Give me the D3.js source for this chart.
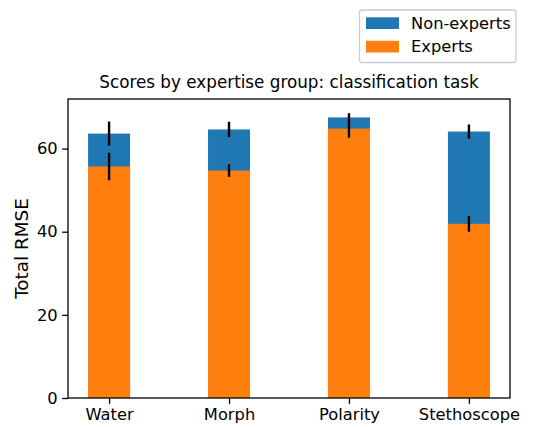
<!DOCTYPE html>
<html>
<head>
<meta charset="utf-8">
<script src="https://cdn.jsdelivr.net/npm/d3@7"></script>
<style>
  body { margin: 0; background: #fff; }
  text { font-family: "DejaVu Sans", sans-serif; fill: #000; }
</style>
</head>
<body>
<div id="chart"></div>
<script>
var categories = ['Water', 'Morph', 'Polarity', 'Stethoscope'];
var nonExperts = [63.6, 64.6, 67.5, 64.1];
var nonExpertsErr = [2.9, 1.85, 1.0, 1.7];
var experts = [55.7, 54.7, 64.8, 41.9];
var expertsErr = [3.3, 1.5, 2.2, 1.9];
var yTicks = [0, 20, 40, 60];

var W = 545, H = 427;
var margin = {top: 99, right: 35, bottom: 29, left: 68},
    width = W - margin.left - margin.right,
    height = H - margin.top - margin.bottom;
var barW = 0.35;

var svg = d3.select("#chart")
  .append("svg")
    .attr("width", W)
    .attr("height", H);
var g = svg.append("g")
    .attr("transform", "translate(" + margin.left + "," + margin.top + ")");

var x = d3.scaleLinear()
  .domain([-barW / 2 - 0.05 * (categories.length - 1 + barW), categories.length - 1 + barW / 2 + 0.05 * (categories.length - 1 + barW)])
  .range([0, width]);

var ymax = d3.max([
  d3.max(nonExperts, function(d, i) { return d + nonExpertsErr[i]; }),
  d3.max(experts, function(d, i) { return d + expertsErr[i]; })
]) * 1.05;
var y = d3.scaleLinear()
  .domain([0, ymax])
  .range([height, 0]);

var series = [
  {name: 'Non-experts', values: nonExperts, err: nonExpertsErr, color: '#1f77b4'},
  {name: 'Experts', values: experts, err: expertsErr, color: '#ff7f0e'}
];

// bars first (patches), then error bars on top like matplotlib zorder
series.forEach(function(s) {
  g.selectAll(null)
    .data(s.values)
    .enter().append("rect")
      .attr("x", function(d, i) { return x(i - barW / 2); })
      .attr("width", function() { return x(barW) - x(0); })
      .attr("y", function(d) { return y(d); })
      .attr("height", function(d) { return y(0) - y(d); })
      .attr("fill", s.color);
});
series.forEach(function(s) {
  g.selectAll(null)
    .data(s.values)
    .enter().append("line")
      .attr("x1", function(d, i) { return x(i); })
      .attr("x2", function(d, i) { return x(i); })
      .attr("y1", function(d, i) { return y(d - s.err[i]); })
      .attr("y2", function(d, i) { return y(d + s.err[i]); })
      .attr("stroke", "#000")
      .attr("stroke-width", 2.4);
});

// axes
var xAxis = g.append("g")
  .attr("transform", "translate(0," + height + ")")
  .call(d3.axisBottom(x)
    .tickValues(d3.range(categories.length))
    .tickFormat(function(i) { return categories[i]; })
    .tickSize(5.8)
    .tickPadding(5));
var yAxis = g.append("g")
  .call(d3.axisLeft(y)
    .tickValues(yTicks)
    .tickSize(5.8)
    .tickPadding(4.5));
[xAxis, yAxis].forEach(function(a) {
  a.select(".domain").remove();
  a.selectAll("line").attr("stroke", "#000").attr("stroke-width", 1.3);
  a.selectAll("text")
    .style("font-family", "DejaVu Sans")
    .style("font-size", "16.3px")
    .attr("fill", "#000");
});

// frame
g.append("rect")
  .attr("x", 0).attr("y", 0)
  .attr("width", width).attr("height", height)
  .attr("fill", "none")
  .attr("stroke", "#000")
  .attr("stroke-width", 1.3);

// title and label
svg.append("text")
  .attr("x", margin.left + width / 2)
  .attr("y", 88)
  .style("text-anchor", "middle")
  .style("font-size", "16.8px")
  .text("Scores by expertise group: classification task");

svg.append("text")
  .attr("transform", "translate(27.5," + (margin.top + height / 2) + ") rotate(-90)")
  .style("text-anchor", "middle")
  .style("font-size", "18.4px")
  .text("Total RMSE");

// legend
var lg = svg.append("g").attr("transform", "translate(359.5,10)");
lg.append("rect")
  .attr("width", 156.5).attr("height", 52.5)
  .attr("rx", 2.5)
  .attr("fill", "#fff")
  .attr("stroke", "#cccccc")
  .attr("stroke-width", 1.3);
series.forEach(function(s, i) {
  lg.append("rect")
    .attr("x", 6.5).attr("y", 7.3 + i * 23.5)
    .attr("width", 33).attr("height", 11.7)
    .attr("fill", s.color);
  lg.append("text")
    .attr("x", 51.5).attr("y", 18.5 + i * 23.5)
    .style("font-size", "16.3px")
    .text(s.name);
});
</script>
</body>
</html>
